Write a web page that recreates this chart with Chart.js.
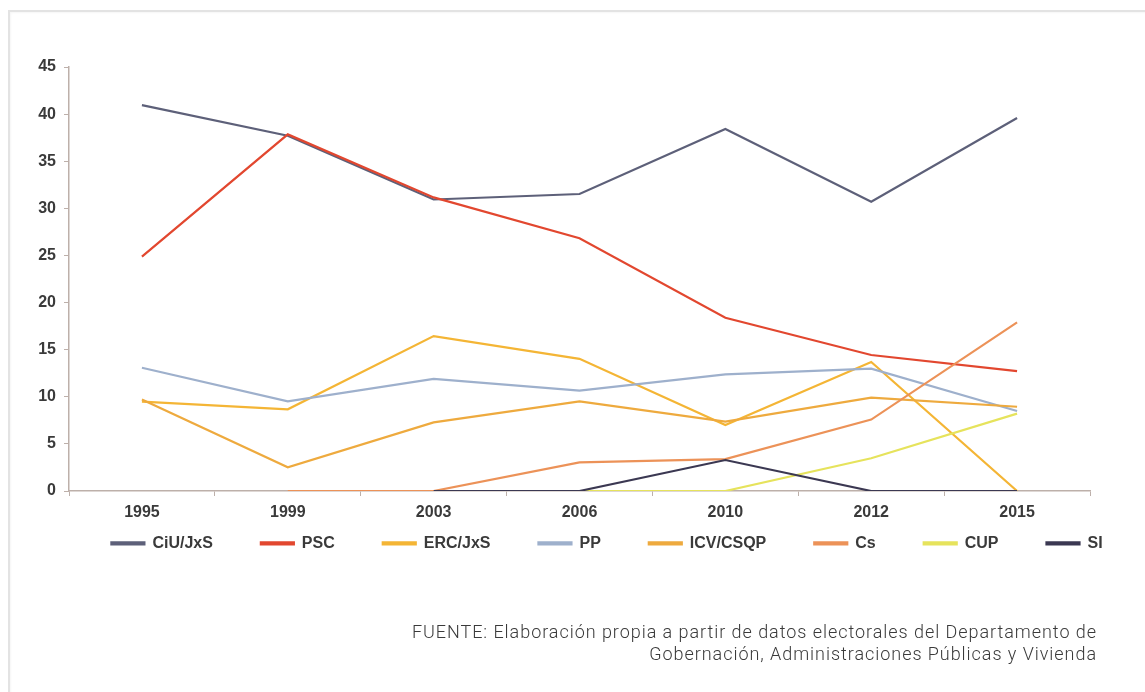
<!DOCTYPE html>
<html>
<head>
<meta charset="utf-8">
<script src="https://cdn.jsdelivr.net/npm/chart.js@4/dist/chart.umd.min.js"></script>
<style>
  html, body { margin: 0; padding: 0; background: #ffffff; }
  body { width: 1145px; height: 692px; position: relative; overflow: hidden; }
  #frame { position: absolute; left: 8px; top: 10px; width: 1160px; height: 700px;
           border-top: 2px solid #e3e3e3; border-left: 2px solid #e3e3e3;
           box-shadow: inset 1px 1px 2px rgba(0,0,0,0.04); }
  #wrap { position: absolute; left: 0; top: 0; width: 1145px; height: 692px; }
  #source { position: absolute; right: 48px; top: 621px; text-align: right;
            font-family: Roboto, "Open Sans", sans-serif; font-weight: 300;
            font-size: 18px; letter-spacing: 0.95px; line-height: 22px; color: #3a3a3a; }
</style>
</head>
<body>
<div id="frame"></div>
<div id="wrap"><canvas id="c"></canvas></div>
<div id="source">FUENTE: Elaboración propia a partir de datos electorales del Departamento de<br>Gobernación, Administraciones Públicas y Vivienda</div>
<script>
const years = ['1995', '1999', '2003', '2006', '2010', '2012', '2015'];
const yTicks = [0, 5, 10, 15, 20, 25, 30, 35, 40, 45];

const ciu  = [40.95, 37.70, 30.94, 31.52, 38.43, 30.70, 39.59];
const psc  = [24.88, 37.85, 31.16, 26.82, 18.38, 14.43, 12.72];
const erc  = [9.49, 8.67, 16.44, 14.03, 7.00, 13.70, 0];
const pp   = [13.08, 9.51, 11.89, 10.65, 12.37, 12.98, 8.49];
const icv  = [9.71, 2.51, 7.28, 9.52, 7.37, 9.90, 8.94];
const cs   = [null, 0, 0, 3.03, 3.39, 7.58, 17.90];
const cup  = [null, null, null, 0, 0, 3.47, 8.21];
const si   = [null, null, 0, 0, 3.29, 0, 0];

const names  = ['CiU/JxS', 'PSC', 'ERC/JxS', 'PP', 'ICV/CSQP', 'Cs', 'CUP', 'SI'];
const series = [ciu, psc, erc, pp, icv, cs, cup, si];
const colors = ['#5d6079', '#e2472f', '#f4b535', '#9eb0cc', '#eeaa3e', '#ec9258', '#e6e35c', '#3b3852'];

const datasets = series.map((d, i) => ({
  label: names[i],
  data: d,
  borderColor: colors[i],
  backgroundColor: colors[i],
  borderWidth: 2.2,
  pointRadius: 0,
  pointHoverRadius: 0,
  tension: 0,
  order: series.length - i,
  yAxisID: 'y'
}));

const axisColor = '#bdb0aa';
const tickFont = { family: '"Liberation Sans", Arial, sans-serif', size: 16, weight: 'bold' };
const legendFontSize = 16;
const legendPad = 48;

// place the library legend on the row where the reference shows it
const legendPlace = {
  id: 'legendPlace',
  afterLayout(chart) {
    const l = chart.legend;
    if (!l) return;
    const itemH = legendFontSize * 1.2;
    const top = 545 - legendPad - itemH / 2;
    const h = l.bottom - l.top;
    l.top = top; l.bottom = top + h;
    const dx = 607 - (l.left + l.right) / 2;
    l.left += dx; l.right += dx;
  }
};

new Chart(document.getElementById('c'), {
  type: 'line',
  data: { labels: years, datasets },
  plugins: [legendPlace],
  options: {
    responsive: true,
    maintainAspectRatio: false,
    animation: false,
    layout: { padding: { left: 0, right: 0, top: 67, bottom: 89 } },
    plugins: {
      tooltip: { enabled: false },
      legend: {
        position: 'bottom',
        labels: {
          sort: (a, b) => a.datasetIndex - b.datasetIndex,
          boxWidth: 33,
          boxHeight: 2,
          padding: legendPad,
          color: '#3a3a3a',
          font: { family: '"Liberation Sans", Arial, sans-serif', size: legendFontSize, weight: 'bold' }
        }
      }
    },
    scales: {
      x: {
        offset: true,
        grid: { display: true, drawOnChartArea: false, drawTicks: true, tickLength: 5, color: axisColor, offset: true },
        border: { display: true, color: axisColor, width: 1.5 },
        ticks: { color: '#3a3a3a', font: tickFont, padding: 7 },
        afterFit: s => { s.height = 38; }
      },
      y: {
        min: 0,
        max: 45,
        afterBuildTicks: s => { s.ticks = yTicks.map(v => ({ value: v })); },
        grid: { display: true, drawOnChartArea: false, drawTicks: true, tickLength: 5, color: axisColor },
        border: { display: true, color: axisColor, width: 1.5 },
        ticks: { color: '#3a3a3a', font: tickFont, padding: 8 },
        afterFit: s => { s.width = 69; }
      },
      yRight: {
        position: 'right',
        display: true,
        grid: { display: false, drawTicks: false },
        border: { display: false },
        ticks: { display: false },
        afterFit: s => { s.width = 55; }
      }
    }
  }
});
</script>
</body>
</html>
